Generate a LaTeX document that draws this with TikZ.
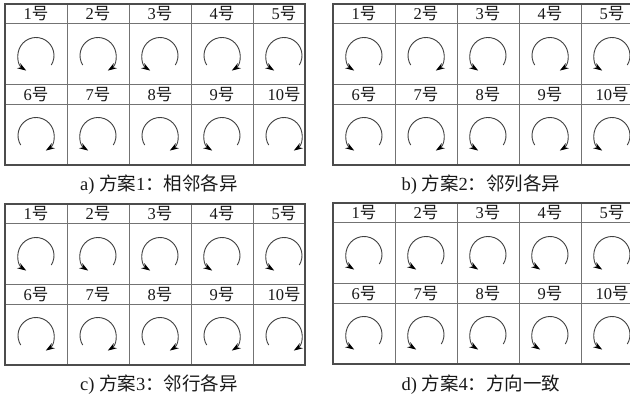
\documentclass[tikz,border=0pt]{standalone}
\usepackage{fontspec}
\setmainfont{Liberation Serif}
\newfontfamily\cjk{Noto Sans CJK SC}
\usetikzlibrary{arrows.meta}
\tikzset{
  gridline/.style={draw=black!55, line width=0.9pt},
  framebox/.style={draw=black!70, line width=1.3pt},
  lbl/.style={font=\fontsize{16.5}{16.5}\selectfont, inner sep=0pt, text=black!90},
  captext/.style={font=\fontsize{18.5}{18.5}\selectfont, inner sep=0pt, text=black!90},
  rot/.style={draw=black!75, line width=0.9pt, -{Stealth[length=9pt,width=6pt,black]}},
}
\newcommand\mkpanel[4]{%
\begin{scope}[shift={(#2,#3)}]
  \draw[gridline] (0,19) -- (300,19) (0,80) -- (300,80) (0,100) -- (300,100);
  \foreach \xx in {62,124,186,248} \draw[gridline] (\xx,0) -- (\xx,161);
  \draw[framebox] (0,0) rectangle (300,161);
  \foreach \dd [count=\ii from 0] in {#4} {
    \pgfmathtruncatemacro\pcol{mod(\ii,5)}
    \pgfmathtruncatemacro\prow{int(\ii/5)}
    \pgfmathsetmacro\pcx{31+62*\pcol}
    \pgfmathsetmacro\ply{\prow==0 ? 10 : 90.5}
    \pgfmathsetmacro\pay{\prow==0 ? 51.5 : 131.5}
    \pgfmathtruncatemacro\pnum{\ii+1}
    \node[lbl] (#1-l\pnum) at (\pcx,\ply) {\pnum{\cjk 号}};
    \coordinate (#1-c\pnum) at (\pcx,\pay);
    \begin{scope}[shift={(\pcx,\pay)}, yscale=-1]
      \if\dd L
        \draw[rot] (-32:18) arc[start angle=-32, end angle=237, radius=18];
      \else
        \draw[rot] (212:18) arc[start angle=212, end angle=-57, radius=18];
      \fi
    \end{scope}
  }
\end{scope}}
\begin{document}
\begin{tikzpicture}[x=1pt,y=-1pt]
  \useasboundingbox (0,0) rectangle (630,399);
  \fill[white] (0,0) rectangle (630,399);
  \clip (0,0) rectangle (630,399);
  \mkpanel{pa}{5}{4}{L,R,L,R,L,R,L,R,L,R}
  \mkpanel{pb}{333}{4}{L,R,L,R,L,L,R,L,R,L}
  \mkpanel{pc}{5}{204}{L,L,L,L,L,R,R,R,R,R}
  \mkpanel{pd}{333}{203}{L,L,L,L,L,L,L,L,L,L}
  \node[captext] (capa) at (159,185) {a) {\cjk 方案}1{\cjk ：相邻各异}};
  \node[captext] (capb) at (481,185) {b) {\cjk 方案}2{\cjk ：邻列各异}};
  \node[captext] (capc) at (159,385) {c) {\cjk 方案}3{\cjk ：邻行各异}};
  \node[captext] (capd) at (481,385) {d) {\cjk 方案}4{\cjk ：方向一致}};
\end{tikzpicture}
\end{document}
